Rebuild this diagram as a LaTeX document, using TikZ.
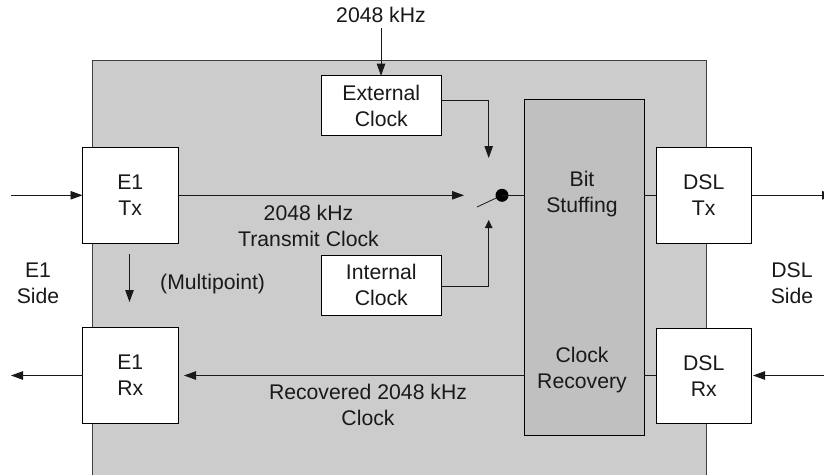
\documentclass[tikz,border=0pt]{standalone}
\usepackage{fontspec}
\setmainfont{Liberation Sans}
\usetikzlibrary{arrows.meta}
\definecolor{panelgray}{HTML}{CCCCCC}
\definecolor{blockgray}{HTML}{C0C0C0}
\tikzset{
  x=1pt,y=-1pt,
  box/.style={draw=black,fill=white,line width=0.9pt,minimum width=#1,inner sep=0pt,outer sep=0pt},
  label/.style={align=center,font=\fontsize{21.2}{26}\selectfont,inner sep=0pt,text=black!90},
  conn/.style={draw=black!90,line width=0.8pt,-{Triangle[length=12pt,width=8.5pt]}},
  smallconn/.style={draw=black!90,line width=0.8pt,-{Triangle[length=8pt,width=7.5pt]}},
  plainconn/.style={draw=black!90,line width=0.8pt},
}
\begin{document}
\begin{tikzpicture}
\useasboundingbox (0,0) rectangle (824,474);
\clip (0,0) rectangle (824,474);
\path[fill=panelgray,draw=black!75,line width=0.9pt] (92.5,60.5) rectangle (706.3,480);
\node[box=95.5pt,minimum height=95.5pt,anchor=north west,label] (e1tx) at (82.5,147.5) {E1\\Tx};
\node[box=95.5pt,minimum height=96pt,anchor=north west,label] (e1rx) at (82.5,327) {E1\\Rx};
\node[box=95.5pt,minimum height=95.5pt,anchor=north west,label] (dsltx) at (656,147.5) {DSL\\Tx};
\node[box=95.5pt,minimum height=95.5pt,anchor=north west,label] (dslrx) at (656,328) {DSL\\Rx};
\node[box=120pt,minimum height=59.5pt,anchor=north west,label] (ext) at (321.3,75.7) {External\\Clock};
\node[box=120pt,minimum height=60pt,anchor=north west,label] (int) at (321.3,255) {Internal\\Clock};
\node[draw=black,fill=blockgray,line width=0.9pt,minimum width=119.5pt,minimum height=335.5pt,anchor=north west,inner sep=0pt,outer sep=0pt] (bit) at (524.5,99.5) {};
\node[label] (bitlabel) at (582,194) {Bit\\Stuffing};
\node[label] (clocklabel) at (582,370) {Clock\\Recovery};
\node[label] (toplabel) at (381,15) {2048 kHz};
\node[label] (txlabel) at (308.5,226) {2048 kHz\\Transmit Clock};
\node[label] (rxlabel) at (368,405) {Recovered 2048 kHz\\Clock};
\node[label] (e1side) at (38,283) {E1\\Side};
\node[label] (dslside) at (792,283) {DSL\\Side};
\node[label,anchor=west] (multi) at (160,284) {(Multipoint)};
\coordinate (hub) at (502,195.3);
\coordinate (armend) at (477,207);
\coordinate (swin) at (464,195.3);
\coordinate (extdown) at (488.7,158);
\coordinate (intup) at (488.7,220);
\coordinate (inE) at (11,195.3);
\coordinate (outE) at (11,375.5);
\coordinate (outD) at (834,195.3);
\coordinate (inD) at (824,375.5);
\coordinate (clkin) at (381,28);
\coordinate (mpa) at (129.5,254);
\coordinate (mpb) at (129.5,302);
\coordinate (recend) at (184,375.5);
\coordinate (dslrxend) at (753,375.5);
\draw[conn] (clkin) -- (clkin |- ext.north);
\draw[conn] (ext.east |- 0,100) -| (extdown);
\draw[smallconn] (int.east |- 0,286.5) -| (intup);
\draw[conn] (e1tx.east |- swin) -- (swin);
\draw[plainconn] (armend) -- (hub);
\fill[black] (hub) circle (6.5pt);
\draw[plainconn] (hub) -- (hub -| bit.west);
\draw[conn] (inE) -- (inE -| e1tx.west);
\draw[conn] (e1rx.west |- outE) -- (outE);
\draw[conn] (mpa) -- (mpb);
\draw[conn] (bit.west |- recend) -- (recend);
\draw[plainconn] (bit.east |- 0,195.3) -- (dsltx.west |- 0,195.3);
\draw[plainconn] (bit.east |- 0,375.5) -- (dslrx.west |- 0,375.5);
\draw[conn] (dsltx.east |- outD) -- (outD);
\draw[conn] (inD) -- (dslrxend);
\end{tikzpicture}
\end{document}
